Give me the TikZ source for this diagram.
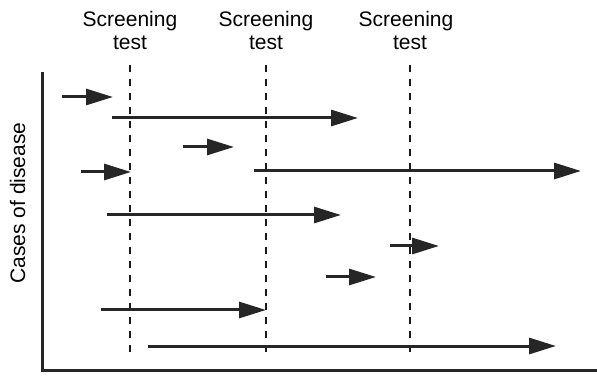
\documentclass[tikz,border=0pt]{standalone}
\usepackage{fontspec}
\setmainfont{Liberation Sans}
\usetikzlibrary{arrows.meta}
\begin{document}
\begin{tikzpicture}[x=1pt,y=-1pt,
  lbl/.style={font=\fontsize{21}{24}\selectfont,anchor=base,inner sep=0pt},
  axis/.style={line width=3pt,color=black!85},
  screen/.style={line width=2.8pt,dash pattern=on 7pt off 7pt,color=black!90},
  case/.style={line width=3pt,color=black!85,-{Triangle[length=27pt,width=16pt]}}]
\useasboundingbox (0,0) rectangle (597,387);
% labels
\node[lbl] (s1) at (130,27) {Screening};
\node[lbl] (t1) at (130,50) {test};
\node[lbl] (s2) at (266,27) {Screening};
\node[lbl] (t2) at (266,50) {test};
\node[lbl] (s3) at (406,27) {Screening};
\node[lbl] (t3) at (410,50) {test};
\node[lbl,rotate=90] (yl) at (25,203) {Cases of disease};
% axes
\coordinate (ytop) at (42.5,72);
\coordinate (orig) at (42.5,370);
\coordinate (xend) at (597,370);
\draw[axis] (ytop) -- (orig) -- (xend);
% screening lines
\coordinate (d1a) at (130,65); \coordinate (d1b) at (130,358);
\coordinate (d2a) at (266,65); \coordinate (d2b) at (266,358);
\coordinate (d3a) at (410,65); \coordinate (d3b) at (410,358);
\draw[screen] (d1a) -- (d1b);
\draw[screen] (d2a) -- (d2b);
\draw[screen] (d3a) -- (d3b);
% cases
\coordinate (a1) at (62,97);  \coordinate (b1) at (113,97);
\coordinate (a2) at (112,118); \coordinate (b2) at (358,118);
\coordinate (a3) at (183,147); \coordinate (b3) at (234,147);
\coordinate (a4) at (81,172); \coordinate (b4) at (131,172);
\coordinate (a5) at (254,171); \coordinate (b5) at (581,171);
\coordinate (a6) at (107,215); \coordinate (b6) at (341,215);
\coordinate (a7) at (390,246); \coordinate (b7) at (439,246);
\coordinate (a8) at (326,277); \coordinate (b8) at (376,277);
\coordinate (a9) at (101,310); \coordinate (b9) at (266,310);
\coordinate (a10) at (148,346); \coordinate (b10) at (556,346);
\foreach \i in {1,...,10} \draw[case] (a\i) -- (b\i);
\end{tikzpicture}
\end{document}
